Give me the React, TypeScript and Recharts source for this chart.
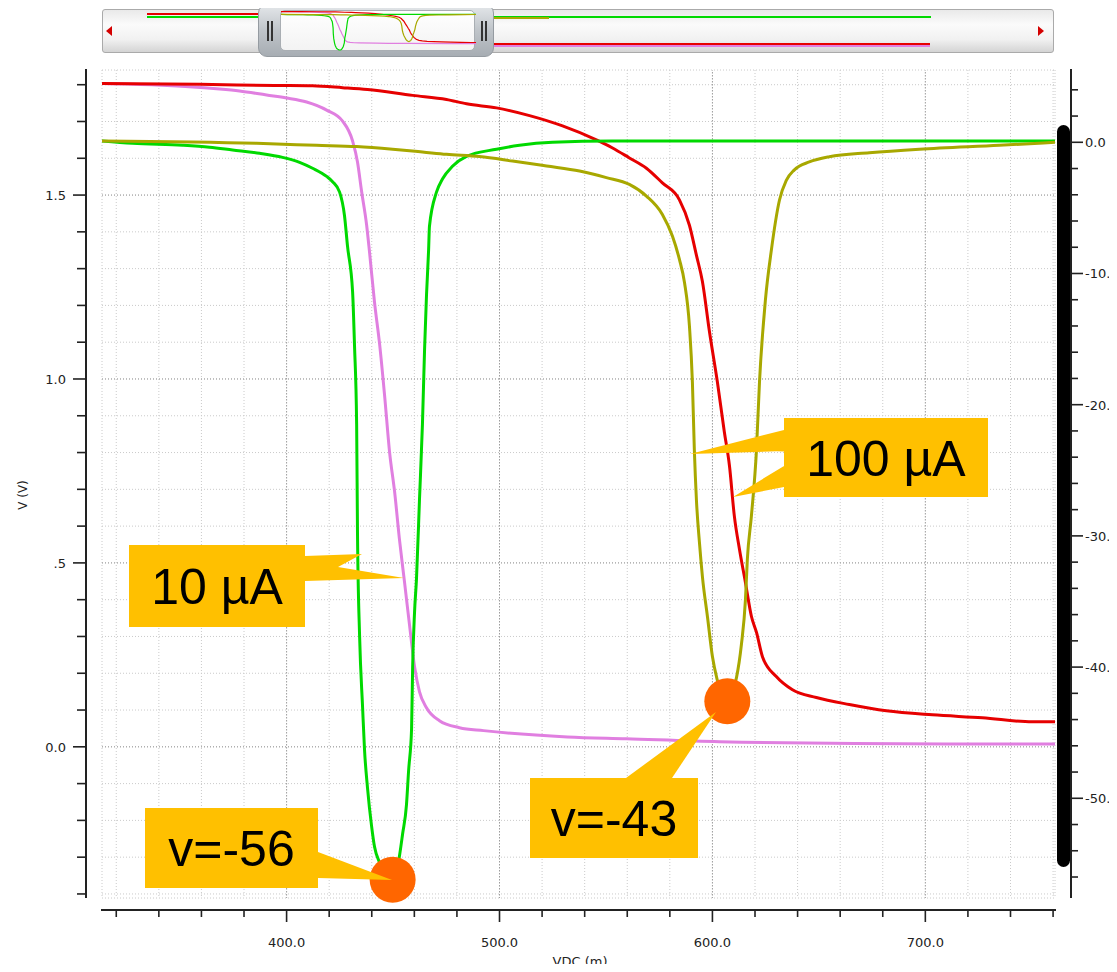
import React from 'react';
import {
  LineChart,
  Line,
  XAxis,
  YAxis,
  CartesianGrid,
  ReferenceLine,
  ReferenceDot,
} from 'recharts';

// [VDC (m), value] pairs
// left axis: V (V)
const v10uA: [number, number][] = [
  [313.3, 1.803], [338.9, 1.799], [355.9, 1.794], [367.1, 1.789], [377.9, 1.783],
  [390.6, 1.772], [400.0, 1.764], [409.4, 1.753], [418.8, 1.731], [426.3, 1.701],
  [431.0, 1.647], [433.3, 1.59], [435.2, 1.511], [437.6, 1.418], [439.0, 1.342],
  [441.3, 1.208], [443.7, 1.094], [446.0, 0.957], [448.4, 0.799], [450.7, 0.695],
  [453.1, 0.559], [455.4, 0.447], [457.7, 0.333], [460.1, 0.218], [462.4, 0.15],
  [465.7, 0.106], [471.8, 0.071], [481.2, 0.052], [492.5, 0.044], [531.9, 0.027],
  [559.6, 0.022], [603.3, 0.014], [709.9, 0.008], [760.9, 0.008],
];

const v100uA: [number, number][] = [
  [313.3, 1.803], [359.2, 1.801], [394.4, 1.798], [412.2, 1.797], [426.3, 1.792],
  [438.0, 1.787], [459.2, 1.771], [475.1, 1.76], [484.5, 1.748], [498.6, 1.737],
  [514.1, 1.716], [529.6, 1.688], [545.5, 1.65], [553.1, 1.628], [561.0, 1.601],
  [569.0, 1.573], [576.5, 1.533], [584.5, 1.487], [589.2, 1.418], [592.5, 1.336],
  [595.3, 1.265], [598.6, 1.129], [602.3, 0.993], [605.6, 0.856], [608.0, 0.764],
  [610.3, 0.627], [612.7, 0.537], [615.5, 0.447], [618.3, 0.355], [620.7, 0.311],
  [623.5, 0.245], [630.0, 0.191], [637.6, 0.155], [648.8, 0.134], [664.3, 0.115],
  [681.7, 0.098], [703.3, 0.087], [726.8, 0.079], [750.2, 0.068], [760.9, 0.068],
];

// right axis
const gain10uA: [number, number][] = [
  [313.3, 0.1], [327.7, -0.08], [351.2, -0.23], [363.8, -0.38], [374.6, -0.59],
  [387.3, -0.84], [398.1, -1.15], [406.1, -1.53], [412.2, -1.98], [418.8, -2.6],
  [421.6, -3.0], [424.9, -3.8], [427.2, -5.6], [428.6, -7.9], [431.0, -11.4],
  [431.9, -15.5], [432.9, -21.5], [433.3, -29.8], [434.3, -37.7], [435.7, -43.1],
  [436.6, -46.3], [438.0, -49.2], [439.9, -52.1], [441.3, -53.7], [443.7, -54.9],
  [446.5, -55.8], [449.3, -56.0], [452.1, -55.2], [453.1, -54.3], [454.5, -52.7],
  [456.3, -50.5], [457.3, -47.9], [458.7, -44.7], [459.2, -40.0], [460.1, -35.8],
  [461.0, -33.3], [462.4, -27.3], [463.8, -21.5], [464.8, -15.8], [465.7, -11.7],
  [466.7, -8.2], [467.1, -6.4], [470.4, -3.8], [473.2, -2.8], [477.9, -1.83],
  [484.5, -1.07], [498.6, -0.53], [509.4, -0.23], [524.9, 0.0], [553.1, 0.1],
  [760.9, 0.1],
];

const gain100uA: [number, number][] = [
  [313.3, 0.1], [385.9, -0.08], [414.1, -0.23], [432.9, -0.33], [449.8, -0.53],
  [463.8, -0.74], [475.1, -0.92], [490.6, -1.09], [506.1, -1.43], [522.1, -1.81],
  [537.6, -2.19], [550.2, -2.69], [561.0, -3.21], [569.0, -4.1], [576.5, -5.5],
  [581.2, -7.15], [584.5, -8.93], [586.9, -10.7], [589.2, -14.0], [590.6, -18.3],
  [591.5, -23.4], [592.5, -27.3], [593.9, -30.5], [595.3, -33.1], [597.7, -36.2],
  [600.0, -39.2], [602.3, -41.0], [604.7, -42.3], [607.0, -42.7], [609.4, -41.9],
  [611.3, -40.8], [613.6, -38.3], [615.5, -34.9], [616.4, -31.8], [618.3, -28.5],
  [620.7, -23.4], [622.1, -18.3], [624.9, -12.0], [627.7, -8.2], [631.5, -4.4],
  [634.7, -2.9], [638.5, -2.1], [645.5, -1.5], [654.9, -1.1], [673.7, -0.8],
  [697.2, -0.53], [734.7, -0.23], [760.9, 0.0],
];

// markers at the two notch minima (right axis)
const notchMins: [number, number][] = [
  [449.8, -56.2],
  [607.0, -42.6],
];

const xTicks = [320, 340, 360, 380, 400, 420, 440, 460, 480, 500, 520, 540, 560, 580, 600, 620, 640, 660, 680, 700, 720, 740, 760];
const xMajor = [400, 500, 600, 700];
const leftTicks = [-0.4, -0.3, -0.2, -0.1, 0, 0.1, 0.2, 0.3, 0.4, 0.5, 0.6, 0.7, 0.8, 0.9, 1.0, 1.1, 1.2, 1.3, 1.4, 1.5, 1.6, 1.7, 1.8];
const leftMajor = [0, 0.5, 1.0, 1.5];
const leftLabels = ['0.0', '.5', '1.0', '1.5'];
const rightTicks = [4, 2, 0, -2, -4, -6, -8, -10, -12, -14, -16, -18, -20, -22, -24, -26, -28, -30, -32, -34, -36, -38, -40, -42, -44, -46, -48, -50, -52, -54, -56];
const rightMajor = [0, -10, -20, -30, -40, -50];
// the window edge cuts these labels after the point
const rightLabels = ['0.0', '-10.', '-20.', '-30.', '-40.', '-50.'];

const xDomain: [number, number] = [313.3, 760.9];
const leftDomain: [number, number] = [-0.411, 1.84];
const rightDomain: [number, number] = [-57.6, 5.51];

const W = 1117;
const H = 972;
const PLOT = { left: 102, right: 1055, top: 70, bottom: 898 };

const RED = '#e60000';
const PINK = '#e07fe0';
const GREEN = '#00d900';
const OLIVE = '#a8a800';
const CALLOUT = '#ffc000';
const DOT = '#ff6600';
const AXIS = '#222';
const TICK_FONT = '"DejaVu Sans", sans-serif';

const pts = (s: [number, number][]) => s.map(([x, y]) => ({ x, y }));

const series = [
  { key: 'v10', data: pts(v10uA), axis: 'left', color: PINK },
  { key: 'v100', data: pts(v100uA), axis: 'left', color: RED },
  { key: 'g10', data: pts(gain10uA), axis: 'right', color: GREEN },
  { key: 'g100', data: pts(gain100uA), axis: 'right', color: OLIVE },
];

const isIn = (arr: number[], v: number) => arr.some((a) => Math.abs(a - v) < 1e-6);

function XTick(props: any) {
  const { x, payload } = props;
  const major = isIn(xMajor, payload.value);
  return (
    <g>
      <line x1={x} x2={x} y1={910} y2={major ? 922 : 917} stroke={AXIS} strokeWidth={1.6} />
      {major && (
        <text x={x} y={947} textAnchor="middle" fontSize={13} fontFamily={TICK_FONT} fill={AXIS}>
          {payload.value.toFixed(1)}
        </text>
      )}
    </g>
  );
}

function LeftTick(props: any) {
  const { y, payload } = props;
  const i = leftMajor.findIndex((m) => Math.abs(m - payload.value) < 1e-6);
  return (
    <g>
      <line x1={i >= 0 ? 73 : 77} x2={86} y1={y} y2={y} stroke={AXIS} strokeWidth={1.6} />
      {i >= 0 && (
        <text x={66} y={y + 5} textAnchor="end" fontSize={13} fontFamily={TICK_FONT} fill={AXIS}>
          {leftLabels[i]}
        </text>
      )}
    </g>
  );
}

function RightTick(props: any) {
  const { y, payload } = props;
  const i = rightMajor.findIndex((m) => Math.abs(m - payload.value) < 1e-6);
  return (
    <g>
      <line x1={1071} x2={i >= 0 ? 1083 : 1078} y1={y} y2={y} stroke={AXIS} strokeWidth={1.6} />
      {i >= 0 && (
        <text x={1085} y={y + 5} textAnchor="start" fontSize={13} fontFamily={TICK_FONT} fill={AXIS}>
          {rightLabels[i]}
        </text>
      )}
    </g>
  );
}

function Callout({ box, text, pointer }: { box: number[]; text: string; pointer: string }) {
  const [x, y, w, h] = box;
  return (
    <g>
      <polygon points={pointer} fill={CALLOUT} />
      <rect x={x} y={y} width={w} height={h} fill={CALLOUT} />
      <text
        x={x + w / 2}
        y={y + h / 2 + 18}
        textAnchor="middle"
        fontSize={50}
        fontFamily='"Liberation Sans", Arial, sans-serif'
        fill="#000"
      >
        {text}
      </text>
    </g>
  );
}

function MiniPlot() {
  return (
    <LineChart width={195} height={40} margin={{ top: 0, right: 0, bottom: 0, left: 0 }}>
      <XAxis dataKey="x" type="number" domain={xDomain} allowDataOverflow hide />
      <YAxis yAxisId="left" domain={leftDomain} allowDataOverflow hide />
      <YAxis yAxisId="right" domain={rightDomain} allowDataOverflow hide />
      {series.map((s) => (
        <Line
          key={s.key}
          data={s.data}
          dataKey="y"
          yAxisId={s.axis}
          stroke={s.color}
          strokeWidth={1.2}
          dot={false}
          isAnimationActive={false}
        />
      ))}
    </LineChart>
  );
}

function Navigator() {
  const bar = (left: number, top: number, width: number, color: string, h = 2) => (
    <div style={{ position: 'absolute', left, top, width, height: h, background: color }} />
  );
  return (
    <>
      <div
        style={{
          position: 'absolute', left: 102, top: 9, width: 950, height: 42,
          border: '1px solid #aaa', borderRadius: 3,
          background: 'linear-gradient(#e9e9e9, #fbfbfb 35%, #f1f1f1 70%, #d4d4d4)',
        }}
      />
      <div style={{ position: 'absolute', left: 106, top: 26, width: 0, height: 0, borderTop: '5px solid transparent', borderBottom: '5px solid transparent', borderRight: '6px solid #d40000' }} />
      <div style={{ position: 'absolute', left: 1038, top: 26, width: 0, height: 0, borderTop: '5px solid transparent', borderBottom: '5px solid transparent', borderLeft: '6px solid #d40000' }} />
      {bar(147, 13, 116, RED)}
      {bar(147, 16, 116, GREEN)}
      {bar(493, 16, 438, GREEN)}
      {bar(493, 17, 56, OLIVE)}
      {bar(493, 43, 437, RED)}
      {bar(493, 45, 437, PINK)}
      <div
        style={{
          position: 'absolute', left: 258, top: 4, width: 236, height: 53,
          borderRadius: 9, border: '1px solid #959ba1', boxSizing: 'border-box',
          background: 'linear-gradient(#e4e7ea, #bfc4c9 50%, #a7adb3)',
        }}
      />
      <div
        style={{
          position: 'absolute', left: 280, top: 10, width: 195, height: 41,
          borderRadius: 5, border: '1px solid #a9aeb3', boxSizing: 'border-box',
          background: 'linear-gradient(#ffffff, #f3f3f3)',
        }}
      />
      <div style={{ position: 'absolute', left: 281, top: 11 }}>
        <MiniPlot />
      </div>
      {[267, 271, 481, 485].map((l) => (
        <div key={l} style={{ position: 'absolute', left: l, top: 21, width: 2, height: 20, background: '#333' }} />
      ))}
    </>
  );
}

export default function App() {
  return (
    <div style={{ position: 'relative', width: W, height: H, margin: -8, overflow: 'hidden', background: '#fff' }}>
      <Navigator />
      <div style={{ position: 'absolute', left: 0, top: 0 }}>
        <LineChart width={W} height={H} margin={{ top: PLOT.top, right: 0, bottom: 0, left: 0 }}>
          <CartesianGrid yAxisId="left" stroke="#cacaca" strokeDasharray="1 2" />
          <XAxis
            dataKey="x"
            type="number"
            domain={xDomain}
            ticks={xTicks}
            interval={0}
            allowDataOverflow
            axisLine={false}
            tickLine={false}
            height={H - PLOT.bottom}
            tick={(p: any) => <XTick {...p} />}
          />
          <YAxis
            yAxisId="left"
            domain={leftDomain}
            ticks={leftTicks}
            interval={0}
            allowDataOverflow
            axisLine={false}
            tickLine={false}
            width={PLOT.left}
            tick={(p: any) => <LeftTick {...p} />}
          />
          <YAxis
            yAxisId="right"
            orientation="right"
            domain={rightDomain}
            ticks={rightTicks}
            interval={0}
            allowDataOverflow
            axisLine={false}
            tickLine={false}
            width={W - PLOT.right}
            tick={(p: any) => <RightTick {...p} />}
          />
          {xMajor.map((v) => (
            <ReferenceLine key={'x' + v} x={v} yAxisId="left" stroke="#9c9c9c" strokeDasharray="1 2" />
          ))}
          {leftMajor.map((v) => (
            <ReferenceLine key={'y' + v} y={v} yAxisId="left" stroke="#9c9c9c" strokeDasharray="1 2" />
          ))}
          {series.map((s) => (
            <Line
              key={s.key}
              type="monotone"
              data={s.data}
              dataKey="y"
              yAxisId={s.axis}
              stroke={s.color}
              strokeWidth={3}
              dot={false}
              activeDot={false}
              isAnimationActive={false}
            />
          ))}
          {notchMins.map(([x, y]) => (
            <ReferenceDot key={x} x={x} y={y} yAxisId="right" r={23} fill={DOT} stroke="none" ifOverflow="visible" />
          ))}
        </LineChart>
      </div>
      <svg width={W} height={H} style={{ position: 'absolute', left: 0, top: 0, pointerEvents: 'none' }}>
        <line x1={86} x2={86} y1={69} y2={898} stroke={AXIS} strokeWidth={2} />
        <line x1={1071} x2={1071} y1={69} y2={898} stroke={AXIS} strokeWidth={2} />
        <line x1={101} x2={1056} y1={910} y2={910} stroke={AXIS} strokeWidth={2} />
        <rect x={1057} y={125} width={13} height={742} rx={6.5} fill="#000" />
        <text x={580} y={966} textAnchor="middle" fontSize={13} fontFamily={TICK_FONT} fill={AXIS}>VDC (m)</text>
        <text x={27} y={495} textAnchor="middle" fontSize={12} fontFamily={TICK_FONT} fill={AXIS} transform="rotate(-90 27 495)">V (V)</text>
        <Callout box={[129, 545, 176, 82]} text="10 µA" pointer="305,556 362,554 338,567 404,578 305,581" />
        <Callout box={[784, 418, 204, 79]} text="100 µA" pointer="784,430 690,454 784,451 784,466 733,497 784,487" />
        <Callout box={[145, 808, 173, 80]} text="v=-56" pointer="318,852 392,880 318,878" />
        <Callout box={[530, 778, 168, 80]} text="v=-43" pointer="626,778 716,712 672,778" />
      </svg>
    </div>
  );
}
